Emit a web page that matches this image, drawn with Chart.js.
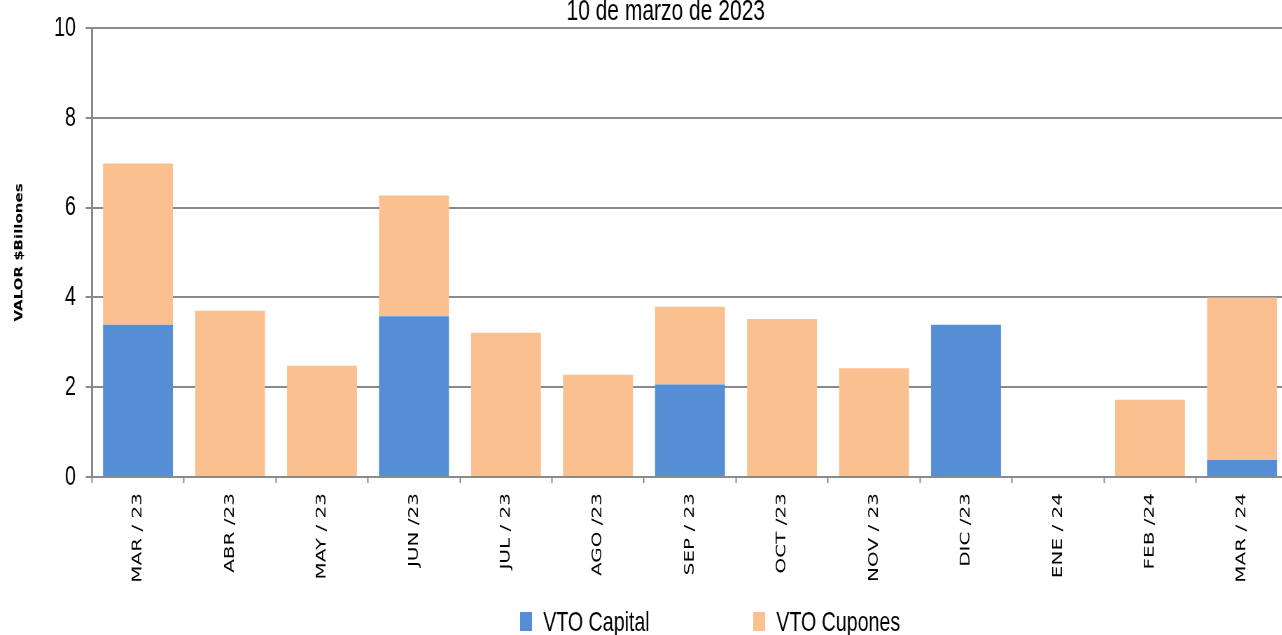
<!DOCTYPE html>
<html lang="es">
<head>
<meta charset="utf-8">
<title>Vencimientos</title>
<script src="https://cdn.jsdelivr.net/npm/chart.js@4.4.1/dist/chart.umd.min.js"></script>
<style>
  html, body { margin: 0; padding: 0; background: #fff; overflow: hidden; }
  #grafico {
    display: block;
    /* el lienzo se dibuja ancho y se comprime en horizontal */
    transform: scaleX(0.7);
    transform-origin: 0 0;
  }
</style>
</head>
<body>
<canvas id="grafico" width="1900" height="635"></canvas>
<script>
        const titulo = '10 de marzo de 2023';
        const tituloEje = 'VALOR $Billones';

        // meses de vencimiento
        const meses = ['MAR / 23', 'ABR /23', 'MAY / 23', 'JUN /23', 'JUL / 23', 'AGO /23',
                       'SEP / 23', 'OCT /23', 'NOV / 23', 'DIC /23', 'ENE / 24', 'FEB /24', 'MAR / 24'];

        // valores en billones
        const vtoCapital = [3.39, 0, 0, 3.58, 0, 0, 2.06, 0, 0, 3.39, 0, 0, 0.38];
        const vtoCupones = [3.59, 3.70, 2.48, 2.69, 3.21, 2.28, 1.73, 3.52, 2.42, 0, 0, 1.72, 3.62];

        const gris = '#8a8a8a';

        // título y leyenda dibujados sobre el lienzo
        const rotulos = {
            id: 'rotulos',
            afterDraw(chart) {
                const ctx = chart.ctx;
                ctx.save();
                ctx.fillStyle = '#000';
                ctx.font = '30px "Liberation Sans", Arial, sans-serif';
                ctx.textAlign = 'center';
                ctx.textBaseline = 'alphabetic';
                ctx.fillText(titulo, 951, 20);

                ctx.font = '28px "Liberation Sans", Arial, sans-serif';
                ctx.textAlign = 'left';
                let x = 743;
                chart.data.datasets.forEach(ds => {
                    ctx.fillStyle = ds.backgroundColor;
                    ctx.fillRect(x, 612, 17, 19);
                    ctx.fillStyle = '#000';
                    ctx.fillText(ds.label, x + 33, 631);
                    x += 33 + ctx.measureText(ds.label).width + 148;
                });
                ctx.restore();
            }
        };

        const ctxGrafico = document.getElementById('grafico').getContext('2d');
        new Chart(ctxGrafico, {
            type: 'bar',
            data: {
                labels: meses,
                datasets: [{
                    label: 'VTO Capital',
                    data: vtoCapital,
                    backgroundColor: '#558ED5',
                    borderWidth: 0,
                    barPercentage: 0.76,
                    categoryPercentage: 1.0
                }, {
                    label: 'VTO Cupones',
                    data: vtoCupones,
                    backgroundColor: '#FAC090',
                    borderWidth: 0,
                    barPercentage: 0.76,
                    categoryPercentage: 1.0
                }]
            },
            options: {
                responsive: false,
                animation: false,
                devicePixelRatio: 1,
                layout: {
                    padding: { top: 24, right: 60, bottom: 0, left: 0 }
                },
                plugins: {
                    legend: { display: false },
                    title: { display: false },
                    tooltip: { enabled: false }
                },
                scales: {
                    x: {
                        stacked: true,
                        grid: {
                            drawOnChartArea: false,
                            drawTicks: true,
                            tickLength: 6,
                            tickWidth: 2,
                            tickColor: gris
                        },
                        border: { color: gris, width: 2 },
                        ticks: {
                            minRotation: 90,
                            maxRotation: 90,
                            autoSkip: false,
                            padding: 10,
                            color: '#000',
                            font: { family: '"DejaVu Sans", Verdana, sans-serif', size: 20 }
                        },
                        afterFit(scale) { scale.height = 158; }
                    },
                    y: {
                        stacked: true,
                        min: 0,
                        max: 10,
                        ticks: {
                            stepSize: 2,
                            padding: 14,
                            color: '#000',
                            font: { family: '"Liberation Sans", Arial, sans-serif', size: 28, lineHeight: 1 }
                        },
                        grid: {
                            color: gris,
                            lineWidth: 2,
                            tickLength: 9,
                            tickColor: gris
                        },
                        border: { color: gris, width: 3 },
                        title: {
                            display: true,
                            text: tituloEje,
                            color: '#000',
                            padding: { top: 19, bottom: 0 },
                            font: { family: '"DejaVu Sans", Verdana, sans-serif', size: 15, weight: 'bold' }
                        },
                        afterFit(scale) { scale.width = 131.4; }
                    }
                }
            },
            plugins: [rotulos]
        });
</script>
</body>
</html>
